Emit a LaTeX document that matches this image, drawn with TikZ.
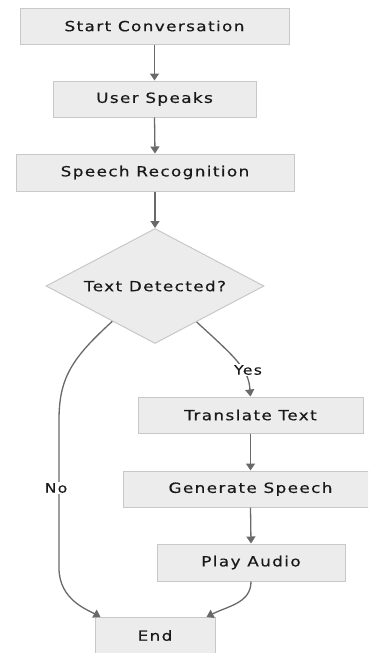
\documentclass[tikz,border=0pt]{standalone}
\usepackage{fontspec}
\setmainfont{DejaVu Sans}[FakeStretch=1.2,LetterSpace=10,FakeBold=0.4]
\usetikzlibrary{shapes.geometric,arrows.meta,calc}
\definecolor{boxfill}{RGB}{236,236,236}
\definecolor{boxline}{RGB}{200,200,200}
\definecolor{flow}{RGB}{105,105,105}
\tikzset{
  stepbox/.style={draw=boxline,fill=boxfill,line width=1pt,rectangle,inner sep=0pt,
    minimum height=36pt,font=\fontsize{14}{16}\selectfont,text=black!90},
  decision/.style={draw=boxline,fill=boxfill,line width=1pt,diamond,aspect=1.9,inner sep=0pt,
    minimum width=218pt,minimum height=115pt,font=\fontsize{14}{16}\selectfont,text=black!90},
  flowline/.style={draw=flow,line width=1.3pt,-{Triangle[width=9pt,length=7pt]}},
  edgelabel/.style={fill=white,inner sep=1pt,font=\fontsize{13}{15}\selectfont,text=black!90}
}
\begin{document}
\begin{tikzpicture}[x=1pt,y=-1pt]
\useasboundingbox (0,0) rectangle (368,653);
\clip (0,0) rectangle (368,653);
\node[stepbox,minimum width=269pt] (s) at (154.5,26) {Start Conversation};
\node[stepbox,minimum width=203pt] (u) at (154.5,99) {User Speaks};
\node[stepbox,minimum width=278pt,minimum height=37pt] (r) at (155,172.5) {Speech Recognition};
\node[decision] (d) at (155,286) {Text Detected?};
\node[stepbox,minimum width=225pt] (t) at (250.5,415) {Translate Text};
\node[stepbox,minimum width=255pt] (g) at (250.5,489) {Generate Speech};
\node[stepbox,minimum width=188pt,minimum height=37pt] (p) at (251,562.5) {Play Audio};
\node[stepbox,minimum width=120pt] (e) at (155,635.5) {End};

\draw[flowline] (s.south) -- (u.north);
\draw[flowline] (u.south) -- (r.north);
\draw[flowline] (r.south) -- (d.north);
\draw[flowline] (t.south) -- (g.north);
\draw[flowline] (g.south) -- (p.north);

% branch: no text found
\coordinate (noStart) at ($(d.west)!0.61!(d.south)$);
\coordinate (noEnd) at ($(e.north west)+(6,0)$);
\draw[flowline] (noStart) .. controls (72,358) and (59,378) .. (59,420)
  -- (59,568) .. controls (59,600) and (88,610) .. (noEnd);
\node[edgelabel] (no) at (56,488) {No};

% branch: text found
\coordinate (yesStart) at ($(d.east)!0.62!(d.south)$);
\draw[flowline] (yesStart) .. controls (236,358) and (250,370) .. (250,392) -- (t.north);
\node[edgelabel] (yes) at (248,370) {Yes};

% audio played, finish
\coordinate (endIn) at ($(e.north east)-(9,0)$);
\draw[flowline] (p.south) .. controls (251,603) and (228,606) .. (endIn);
\end{tikzpicture}
\end{document}
